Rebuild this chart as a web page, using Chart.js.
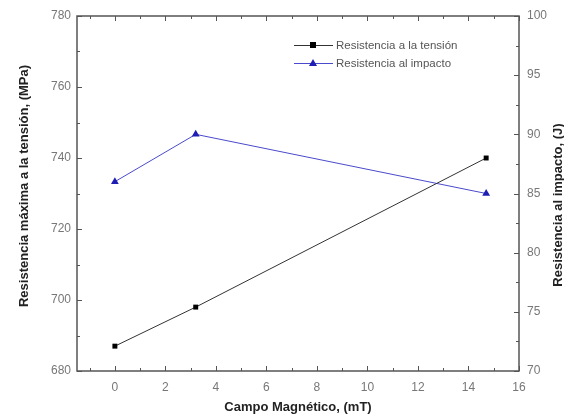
<!DOCTYPE html>
<html>
<head>
<meta charset="utf-8">
<script src="https://cdn.jsdelivr.net/npm/chart.js@4.4.1/dist/chart.umd.min.js"></script>
<style>
  html, body { margin: 0; padding: 0; background: #fff; }
  #wrap { width: 564px; height: 417px; position: relative; }
</style>
</head>
<body>
<div id="wrap"><canvas id="grafica"></canvas></div>
<script>
// Datos
const campo = [0, 3.2, 14.7];                 // Campo magnético (mT)
const tension = [687, 698, 740];             // Resistencia a la tensión (MPa)
const impacto = [86, 90, 85];                // Resistencia al impacto (J)
const xTicks = [0, 2, 4, 6, 8, 10, 12, 14, 16];
const yTicks = [680, 700, 720, 740, 760, 780];
const y2Ticks = [70, 75, 80, 85, 90, 95, 100];
const etiquetas = ['Resistencia a la tensión', 'Resistencia al impacto'];

const colorEje = '#555';
const fuente = 'Liberation Sans, Arial, sans-serif';

// Marcos, ticks interiores, títulos y leyenda
const decorado = {
  id: 'decorado',
  afterDraw(chart) {
    const ctx = chart.ctx;
    const a = chart.chartArea;
    const sx = chart.scales.x, sy = chart.scales.y, sy2 = chart.scales.y2;
    ctx.save();
    ctx.strokeStyle = colorEje;
    ctx.lineWidth = 1.5;
    ctx.strokeRect(a.left, a.top, a.right - a.left, a.bottom - a.top);
    ctx.lineWidth = 1;
    ctx.beginPath();
    // eje x (abajo y arriba)
    for (let v = -1; v <= 16; v += 1) {
      const px = Math.round(sx.getPixelForValue(v)) + 0.5;
      const len = (v % 2 === 0) ? 5 : 3;
      ctx.moveTo(px, a.bottom); ctx.lineTo(px, a.bottom - len);
      ctx.moveTo(px, a.top); ctx.lineTo(px, a.top + len);
    }
    // eje y izquierdo
    for (let v = 680; v <= 780; v += 10) {
      const py = Math.round(sy.getPixelForValue(v)) + 0.5;
      const len = (v % 20 === 0) ? 5 : 3;
      ctx.moveTo(a.left, py); ctx.lineTo(a.left + len, py);
    }
    // eje y derecho
    for (let v = 70; v <= 100; v += 2.5) {
      const py = Math.round(sy2.getPixelForValue(v)) + 0.5;
      const len = (v % 5 === 0) ? 5 : 3;
      ctx.moveTo(a.right, py); ctx.lineTo(a.right - len, py);
    }
    ctx.stroke();

    // títulos
    ctx.fillStyle = '#222';
    ctx.font = 'bold 13px ' + fuente;
    ctx.textAlign = 'center';
    ctx.textBaseline = 'middle';
    ctx.fillText('Campo Magnético, (mT)', 298, 407);
    ctx.save();
    ctx.translate(24, 186);
    ctx.rotate(-Math.PI / 2);
    ctx.fillText('Resistencia máxima a la tensión, (MPa)', 0, 0);
    ctx.restore();
    ctx.save();
    ctx.translate(558, 205);
    ctx.rotate(-Math.PI / 2);
    ctx.fillText('Resistencia al impacto, (J)', 0, 0);
    ctx.restore();

    // leyenda
    const filas = [45, 63];
    chart.data.datasets.forEach((ds, i) => {
      const y = filas[i];
      ctx.strokeStyle = ds.borderColor;
      ctx.lineWidth = 1;
      ctx.beginPath();
      ctx.moveTo(294, y + 0.5); ctx.lineTo(333, y + 0.5);
      ctx.stroke();
      ctx.fillStyle = ds.pointBackgroundColor;
      if (ds.pointStyle === 'rect') {
        ctx.fillRect(310, y - 3, 6, 6);
      } else {
        ctx.beginPath();
        ctx.moveTo(313, y - 4); ctx.lineTo(317, y + 3); ctx.lineTo(309, y + 3);
        ctx.closePath(); ctx.fill();
      }
      ctx.fillStyle = '#555';
      ctx.font = '11.5px ' + fuente;
      ctx.textAlign = 'left';
      ctx.fillText(ds.label, 336, y + 0.5);
    });
    ctx.restore();
  }
};

const fuenteTicks = { family: fuente, size: 12 };

new Chart(document.getElementById('grafica'), {
  type: 'line',
  data: {
    datasets: [
      {
        label: etiquetas[0],
        data: campo.map((x, i) => ({ x: x, y: tension[i] })),
        yAxisID: 'y',
        borderColor: '#333',
        borderWidth: 1,
        pointStyle: 'rect',
        pointRadius: 3.5,
        pointBackgroundColor: '#000',
        pointBorderColor: '#000',
        pointBorderWidth: 0,
        tension: 0
      },
      {
        label: etiquetas[1],
        data: campo.map((x, i) => ({ x: x, y: impacto[i] })),
        yAxisID: 'y2',
        borderColor: '#4a4acc',
        borderWidth: 1,
        pointStyle: 'triangle',
        pointRadius: 4.5,
        pointBackgroundColor: '#1e1eb4',
        pointBorderColor: '#1e1eb4',
        pointBorderWidth: 0,
        tension: 0
      }
    ]
  },
  options: {
    responsive: true,
    maintainAspectRatio: false,
    animation: false,
    layout: { padding: { top: 16, left: 0, right: 0, bottom: 0 } },
    plugins: { legend: { display: false }, tooltip: { enabled: false } },
    scales: {
      x: {
        type: 'linear',
        min: -1.5,
        max: 16,
        afterBuildTicks: s => { s.ticks = xTicks.map(v => ({ value: v })); },
        afterFit: s => { s.height = 46; },
        grid: { display: false, drawTicks: false },
        border: { display: false },
        ticks: { color: '#777', font: fuenteTicks, padding: 9, maxRotation: 0 }
      },
      y: {
        position: 'left',
        min: 680,
        max: 780,
        afterBuildTicks: s => { s.ticks = yTicks.map(v => ({ value: v })); },
        afterFit: s => { s.width = 77; },
        grid: { display: false, drawTicks: false },
        border: { display: false },
        ticks: { color: '#777', font: fuenteTicks, padding: 6 }
      },
      y2: {
        position: 'right',
        min: 70,
        max: 100,
        afterBuildTicks: s => { s.ticks = y2Ticks.map(v => ({ value: v })); },
        afterFit: s => { s.width = 45; },
        grid: { display: false, drawTicks: false },
        border: { display: false },
        ticks: { color: '#777', font: fuenteTicks, padding: 8 }
      }
    }
  },
  plugins: [decorado]
});
</script>
</body>
</html>
